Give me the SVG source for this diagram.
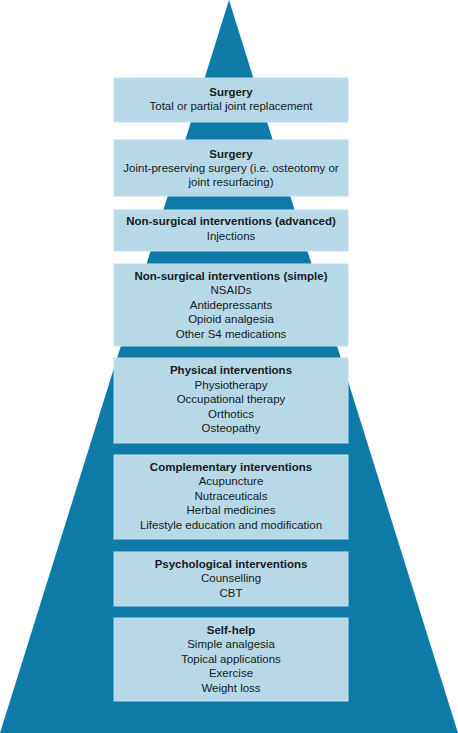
<svg xmlns="http://www.w3.org/2000/svg" width="458" height="733" viewBox="0 0 458 733">
<style>
.box{fill:#b6d8e7;stroke:#c4e0ec;stroke-width:1}
text{font-family:"Liberation Sans",Arial,sans-serif;font-size:11.5px;fill:#1a1a1a;text-anchor:middle}
.t{font-weight:bold}
</style>
<rect width="458" height="733" fill="#ffffff"/>
<polygon points="229,0 0,733 458,733" fill="#0e7aa8"/>
<g id="n1"><rect class="box" x="114" y="78" width="234" height="44"/>
<text x="231" y="96" class="t">Surgery</text><text x="231" y="110">Total or partial joint replacement</text></g>
<g id="n2"><rect class="box" x="114" y="140" width="234" height="56"/>
<text x="231" y="158" class="t">Surgery</text><text x="231" y="172">Joint-preserving surgery (i.e. osteotomy or</text><text x="231" y="186">joint resurfacing)</text></g>
<g id="n3"><rect class="box" x="114" y="210" width="234" height="41"/>
<text x="231" y="225" class="t">Non-surgical interventions (advanced)</text><text x="231" y="240">Injections</text></g>
<g id="n4"><rect class="box" x="114" y="264" width="234" height="82"/>
<text x="231" y="279.5" class="t">Non-surgical interventions (simple)</text><text x="231" y="294">NSAIDs</text><text x="231" y="308.5">Antidepressants</text><text x="231" y="323">Opioid analgesia</text><text x="231" y="337.5">Other S4 medications</text></g>
<g id="n5"><rect class="box" x="114" y="358" width="234" height="85"/>
<text x="231" y="374" class="t">Physical interventions</text><text x="231" y="388.5">Physiotherapy</text><text x="231" y="403">Occupational therapy</text><text x="231" y="417.5">Orthotics</text><text x="231" y="432">Osteopathy</text></g>
<g id="n6"><rect class="box" x="114" y="455" width="234" height="84"/>
<text x="231" y="470.5" class="t">Complementary interventions</text><text x="231" y="485">Acupuncture</text><text x="231" y="499.5">Nutraceuticals</text><text x="231" y="514">Herbal medicines</text><text x="231" y="528.5">Lifestyle education and modification</text></g>
<g id="n7"><rect class="box" x="114" y="552" width="234" height="54"/>
<text x="231" y="567.5" class="t">Psychological interventions</text><text x="231" y="582">Counselling</text><text x="231" y="596.5">CBT</text></g>
<g id="n8"><rect class="box" x="114" y="618" width="234" height="83"/>
<text x="231" y="633.5" class="t">Self-help</text><text x="231" y="648">Simple analgesia</text><text x="231" y="662.5">Topical applications</text><text x="231" y="677">Exercise</text><text x="231" y="691.5">Weight loss</text></g>
<g id="connectors"/>
</svg>
